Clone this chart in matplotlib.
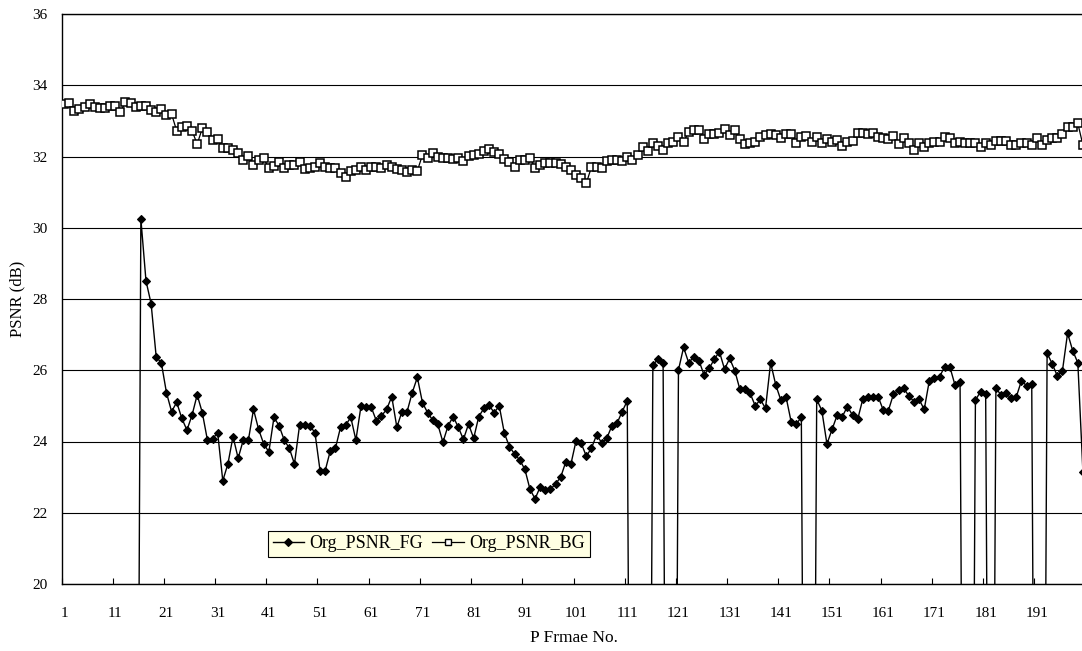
import numpy as np
import matplotlib
matplotlib.use("Agg")
import matplotlib.pyplot as plt
from matplotlib.lines import Line2D

# P-frame index
frames = np.arange(1, 201)

# Background PSNR (dB) per P frame
psnr_bg = [
    33.46, 33.51, 33.28, 33.32, 33.40, 33.46, 33.40, 33.37, 33.37, 33.43,
    33.42, 33.24, 33.54, 33.51, 33.38, 33.42, 33.42, 33.31, 33.26, 33.32,
    33.17, 33.19, 32.72, 32.84, 32.87, 32.72, 32.35, 32.79, 32.70, 32.46,
    32.48, 32.23, 32.25, 32.18, 32.11, 31.90, 32.02, 31.76, 31.90, 31.95,
    31.67, 31.74, 31.85, 31.67, 31.76, 31.76, 31.85, 31.64, 31.67, 31.70,
    31.81, 31.71, 31.68, 31.68, 31.55, 31.43, 31.60, 31.62, 31.70, 31.62,
    31.70, 31.70, 31.67, 31.76, 31.70, 31.64, 31.62, 31.57, 31.62, 31.60,
    32.04, 31.95, 32.11, 32.00, 31.95, 31.95, 31.93, 31.97, 31.87, 32.01,
    32.04, 32.07, 32.16, 32.20, 32.14, 32.07, 31.93, 31.85, 31.70, 31.90,
    31.91, 31.97, 31.67, 31.76, 31.81, 31.81, 31.81, 31.78, 31.71, 31.62,
    31.48, 31.40, 31.25, 31.70, 31.71, 31.67, 31.88, 31.90, 31.90, 31.87,
    32.00, 31.90, 32.04, 32.28, 32.16, 32.37, 32.29, 32.18, 32.39, 32.42,
    32.56, 32.40, 32.70, 32.73, 32.74, 32.48, 32.63, 32.63, 32.65, 32.77,
    32.60, 32.74, 32.48, 32.35, 32.37, 32.42, 32.54, 32.60, 32.63, 32.60,
    32.51, 32.63, 32.63, 32.39, 32.54, 32.58, 32.42, 32.56, 32.37, 32.48,
    32.42, 32.46, 32.29, 32.42, 32.44, 32.67, 32.65, 32.64, 32.67, 32.54,
    32.51, 32.48, 32.58, 32.35, 32.51, 32.39, 32.18, 32.39, 32.28, 32.39,
    32.42, 32.42, 32.54, 32.51, 32.37, 32.42, 32.39, 32.37, 32.37, 32.28,
    32.37, 32.32, 32.44, 32.44, 32.44, 32.32, 32.32, 32.37, 32.39, 32.32,
    32.51, 32.32, 32.46, 32.51, 32.51, 32.63, 32.82, 32.84, 32.93, 32.32,
]

# Foreground PSNR (dB) per P frame; 0 where no foreground was coded
psnr_fg = [
    0, 0, 0, 0, 0, 0, 0, 0, 0, 0,
    0, 0, 0, 0, 0, 30.25, 28.51, 27.87, 26.37, 26.21,
    25.37, 24.84, 25.10, 24.65, 24.32, 24.74, 25.31, 24.81, 24.04, 24.07,
    24.25, 22.90, 23.37, 24.14, 23.53, 24.04, 24.04, 24.90, 24.34, 23.93,
    23.71, 24.68, 24.44, 24.04, 23.81, 23.37, 24.46, 24.46, 24.44, 24.25,
    23.18, 23.18, 23.74, 23.81, 24.40, 24.46, 24.68, 24.04, 25.00, 24.96,
    24.96, 24.58, 24.72, 24.90, 25.26, 24.40, 24.84, 24.84, 25.37, 25.80,
    25.09, 24.81, 24.60, 24.48, 23.98, 24.44, 24.70, 24.40, 24.06, 24.49,
    24.09, 24.70, 24.93, 25.02, 24.81, 25.00, 24.23, 23.85, 23.65, 23.48,
    23.22, 22.66, 22.39, 22.73, 22.64, 22.66, 22.81, 23.00, 23.43, 23.37,
    24.02, 23.95, 23.59, 23.81, 24.18, 23.97, 24.09, 24.44, 24.51, 24.84,
    25.14, 0, 0, 0, 0, 26.15, 26.31, 26.20, 0, 0,
    26.01, 26.64, 26.21, 26.38, 26.27, 25.87, 26.05, 26.31, 26.52, 26.03,
    26.33, 25.99, 25.46, 25.46, 25.35, 25.00, 25.18, 24.93, 26.21, 25.59,
    25.16, 25.26, 24.56, 24.49, 24.68, 0, 0, 25.18, 24.87, 23.93,
    24.34, 24.74, 24.70, 24.98, 24.74, 24.62, 25.19, 25.24, 25.26, 25.26,
    24.88, 24.87, 25.33, 25.45, 25.49, 25.28, 25.12, 25.18, 24.90, 25.71,
    25.77, 25.82, 26.10, 26.10, 25.59, 25.68, 0, 0, 25.16, 25.40,
    25.33, 0, 25.49, 25.31, 25.35, 25.21, 25.26, 25.71, 25.56, 25.61,
    0, 0, 26.48, 26.18, 25.84, 25.99, 27.04, 26.55, 26.21, 23.14,
]

y_ticks = [20, 22, 24, 26, 28, 30, 32, 34, 36]
x_label_frames = list(range(1, 200, 10))

plt.rcParams["font.family"] = ["Liberation Serif", "DejaVu Serif"]

W, H = 1082, 651
fig = plt.figure(figsize=(W / 100, H / 100), dpi=100)
fig.patch.set_facecolor("white")
# plot area runs past the right edge of the canvas
ax = fig.add_axes([61.5 / W, (H - 584) / H, 1024 / W, 570 / H])

ax.plot(frames, psnr_fg, color="black", lw=1.0, marker="D", ms=4.2,
        mfc="black", mec="black", mew=0.8, zorder=3)
ax.plot(frames, psnr_bg, color="black", lw=0.9, marker="s", ms=5.7,
        mfc="white", mec="black", mew=1.1, zorder=4)

ax.set_xlim(0.5, 200.5)
ax.set_ylim(20, 36)

ax.set_yticks(y_ticks)
ax.yaxis.grid(True, color="black", lw=0.8)
ax.set_axisbelow(True)
ax.tick_params(axis="y", length=0, pad=10, labelsize=11)

ax.set_xticks(x_label_frames)
ax.set_xticklabels([str(v) for v in x_label_frames])
ax.set_xticks(np.arange(0.5, 201, 10), minor=True)
ax.tick_params(axis="x", which="major", length=0, pad=16.5, labelsize=11)
ax.tick_params(axis="x", which="minor", direction="in", length=4.5,
               width=0.8, color="black")

for side in ("left", "bottom", "top"):
    ax.spines[side].set_color("black")
    ax.spines[side].set_linewidth(1.0)
ax.spines["right"].set_visible(False)

ax.set_xlabel("P Frmae No.", fontsize=12.5)
ax.xaxis.set_label_coords(0.5, -0.081)
ax.set_ylabel("PSNR (dB)", fontsize=12)
ax.yaxis.set_label_coords(-0.0356, 0.5)

handles = [
    Line2D([], [], color="black", lw=1.0, marker="D", ms=4.2,
           mfc="black", mec="black", mew=0.8),
    Line2D([], [], color="black", lw=0.9, marker="s", ms=5.0,
           mfc="white", mec="black", mew=1.0),
]
leg = ax.legend(handles, ["Org_PSNR_FG", "Org_PSNR_BG"],
                loc="lower left", bbox_to_anchor=(0.2017, 0.0474),
                borderaxespad=0, ncol=2, numpoints=1, fontsize=13,
                frameon=True, fancybox=False, shadow=False,
                facecolor="#FFFFE3", edgecolor="black", framealpha=1,
                handlelength=1.75, handletextpad=0.3, columnspacing=0.5,
                borderpad=0.25)
leg.get_frame().set_linewidth(0.8)

fig.savefig("out.png", dpi=100)
